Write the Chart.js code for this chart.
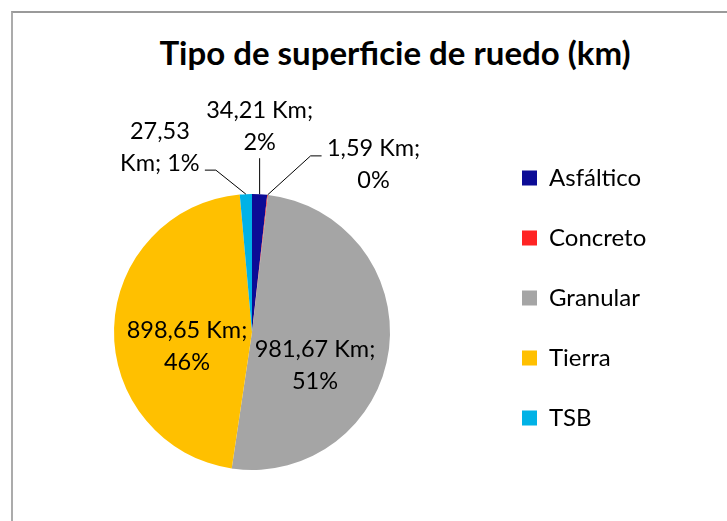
<!DOCTYPE html>
<html>
<head>
<meta charset="utf-8">
<script src="https://cdn.jsdelivr.net/npm/chart.js@4.4.1/dist/chart.umd.min.js"></script>
<style>
  html, body { margin: 0; padding: 0; background: #fff; overflow: hidden; }
  #marco { position: absolute; left: 11px; top: 11px; width: 800px; height: 600px;
           border-top: 2px solid #9a9a9a; border-left: 2px solid #ababab; }
  #titulo { position: absolute; left: 12px; width: 766px; top: 33px; text-align: center;
            font: bold 33px Lato, sans-serif; line-height: 38px; color: #000; }
  #grafico { position: absolute; left: 0; top: 0; }
</style>
</head>
<body>
<div id="marco"></div>
<div id="titulo">Tipo de superficie de ruedo (km)</div>
<canvas id="grafico" width="727" height="560"></canvas>
<script>
const superficies = ['Asfáltico', 'Concreto', 'Granular', 'Tierra', 'TSB'];
const kilometros = [34.21, 1.59, 981.67, 898.65, 27.53];
const colores = ['#0C0C96', '#FF2424', '#A5A5A5', '#FFC000', '#00B2E6'];

// where each data label goes: inside = offset from pie centre,
// outside = leader line points and text offset from the slice edge
const colocacion = [
  { line: [[0, -36]], text: [0, -68] },
  { line: [[43, -39], [54, -39]], text: [106, -30] },
  { inside: true, text: [63, 33] },
  { inside: true, text: [-65, 14] },
  { line: [[-30, -24], [-41, -24]], text: [-86, -47], wrap: true }
];

const fuenteLeyenda = { family: 'Lato', size: 24 };
const ctx = document.getElementById('grafico');

// right padding so the legend boxes land where they should
const medir = document.createElement('canvas').getContext('2d');
medir.font = fuenteLeyenda.size + 'px ' + fuenteLeyenda.family;
const anchoTexto = Math.max(...superficies.map(s => medir.measureText(s).width));
const anchoLeyenda = 36 + 15 + fuenteLeyenda.size / 2 + anchoTexto + 8;
const padDerecho = 727 - 488 - anchoLeyenda;

const etiquetas = {
  id: 'etiquetas',
  afterDatasetsDraw(chart) {
    const c = chart.ctx;
    const meta = chart.getDatasetMeta(0);
    const total = kilometros.reduce((a, b) => a + b, 0);
    c.save();
    c.font = '23.5px Lato';
    c.fillStyle = '#000';
    c.strokeStyle = '#000';
    c.lineWidth = 1;
    c.textAlign = 'center';
    c.textBaseline = 'middle';
    meta.data.forEach((arc, i) => {
      const { x, y, startAngle, endAngle, outerRadius } =
        arc.getProps(['x', 'y', 'startAngle', 'endAngle', 'outerRadius'], true);
      const mid = (startAngle + endAngle) / 2;
      const p = colocacion[i];
      const num = kilometros[i].toFixed(2).replace('.', ',');
      const pct = Math.round(kilometros[i] / total * 100) + '%';
      const lineas = p.wrap ? [num, 'Km; ' + pct] : [num + ' Km;', pct];
      let tx, ty;
      if (p.inside) {
        tx = x + p.text[0];
        ty = y + p.text[1];
      } else {
        const ex = x + Math.cos(mid) * outerRadius;
        const ey = y + Math.sin(mid) * outerRadius;
        c.beginPath();
        c.moveTo(ex, ey);
        p.line.forEach(([dx, dy]) => c.lineTo(ex + dx, ey + dy));
        c.stroke();
        tx = ex + p.text[0];
        ty = ey + p.text[1];
      }
      c.fillText(lineas[0], tx, ty - 16);
      c.fillText(lineas[1], tx, ty + 16);
    });
    c.restore();
  }
};

new Chart(ctx, {
  type: 'pie',
  data: {
    labels: superficies,
    datasets: [{
      data: kilometros,
      backgroundColor: colores,
      borderWidth: 0,
      radius: 138
    }]
  },
  options: {
    responsive: false,
    animation: false,
    devicePixelRatio: 1,
    layout: { padding: { left: 18, top: 130, bottom: 26, right: padDerecho } },
    plugins: {
      legend: {
        position: 'right',
        align: 'start',
        fullSize: false,
        labels: { boxWidth: 15, boxHeight: 15, padding: 36, color: '#000', font: fuenteLeyenda }
      },
      tooltip: { enabled: false }
    }
  },
  plugins: [etiquetas]
});
</script>
</body>
</html>
